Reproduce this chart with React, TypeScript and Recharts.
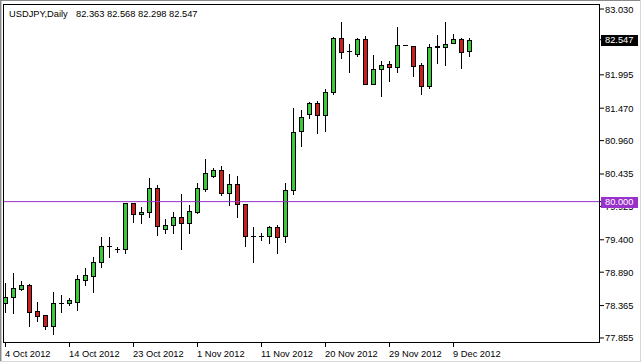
import React from 'react';
import { ComposedChart, Bar, XAxis, YAxis, ReferenceLine } from 'recharts';

const symbolTitle = 'USDJPY,Daily';

const opens = [
  78.410, 78.495, 78.631, 78.689, 78.280, 78.217, 78.048, 78.408, 78.410, 78.426,
  78.767, 78.835, 79.046, 79.300, 79.253, 79.250, 79.974, 79.801, 79.832, 80.210,
  79.574, 79.628, 79.754, 79.659, 79.842, 80.199, 80.408, 80.498, 80.141, 80.277,
  79.963, 79.462, 79.459, 79.460, 79.596, 79.460, 80.183, 81.111, 81.374, 81.547,
  81.358, 81.720, 82.569, 82.373, 82.322, 82.558, 81.855, 82.082, 82.160, 82.123,
  82.457, 82.448, 82.149, 81.824, 82.428, 82.437, 82.500, 82.558, 82.363,
];
const highs = [
  78.720, 78.873, 78.752, 78.697, 78.426, 78.220, 78.583, 78.531, 78.479, 78.846,
  78.951, 79.134, 79.448, 79.448, 79.291, 79.983, 79.978, 79.911, 80.367, 80.262,
  79.722, 79.837, 80.120, 79.947, 80.288, 80.671, 80.524, 80.561, 80.435, 80.408,
  79.967, 79.596, 79.502, 79.617, 79.633, 80.288, 81.468, 81.441, 81.572, 81.588,
  81.767, 82.594, 82.830, 82.475, 82.579, 82.610, 82.307, 82.212, 82.212, 82.742,
  82.461, 82.450, 82.186, 82.480, 82.621, 82.830, 82.637, 82.579, 82.568,
];
const lows = [
  78.269, 78.253, 78.610, 78.044, 78.122, 77.992, 77.918, 78.269, 78.374, 78.295,
  78.689, 78.583, 78.967, 79.134, 79.213, 79.197, 79.684, 79.669, 79.763, 79.475,
  79.511, 79.511, 79.260, 79.502, 79.817, 80.172, 80.392, 80.104, 79.947, 79.751,
  79.307, 79.055, 79.397, 79.345, 79.187, 79.370, 80.120, 80.880, 81.311, 81.075,
  81.116, 81.693, 82.255, 82.044, 82.296, 81.847, 81.853, 81.666, 81.902, 82.035,
  82.457, 81.981, 81.693, 81.783, 82.186, 82.149, 82.491, 82.107, 82.298,
];
const closes = [
  78.505, 78.637, 78.689, 78.269, 78.206, 78.048, 78.401, 78.412, 78.453, 78.778,
  78.846, 79.050, 79.302, 79.304, 79.255, 79.974, 79.806, 79.837, 80.210, 79.617,
  79.628, 79.754, 79.659, 79.853, 80.210, 80.446, 80.498, 80.141, 80.277, 79.963,
  79.464, 79.466, 79.461, 79.596, 79.439, 80.183, 81.100, 81.327, 81.547, 81.358,
  81.725, 82.569, 82.349, 82.377, 82.558, 81.850, 82.082, 82.149, 82.123, 82.459,
  82.461, 82.134, 81.824, 82.428, 82.445, 82.475, 82.558, 82.349, 82.547,
];

const dateTickIndex = [0, 8, 16, 24, 32, 40, 48, 56];
const dateTickLabels = [
  '4 Oct 2012', '14 Oct 2012', '23 Oct 2012', '1 Nov 2012',
  '11 Nov 2012', '20 Nov 2012', '29 Nov 2012', '9 Dec 2012',
];
const priceTicks = [77.855, 78.365, 78.890, 79.400, 79.925, 80.435, 80.960, 81.470, 81.995, 83.030];
const levelLine = 80.0;

const priceDomain = [77.792, 83.109];
const indexDomain = [-0.1875, 74.3125];

const data = opens.map((o, i) => ({
  i,
  open: o,
  high: highs[i],
  low: lows[i],
  close: closes[i],
}));

const last = data[data.length - 1];

const FONT = '"Liberation Sans", Arial, sans-serif';
const FS = 9.3;
const UP = '#3cc83c';
const DOWN = '#c81e1e';
const LEVEL = '#9932CC';

const Candle = (props: any) => {
  const { x, y, width, height, payload } = props;
  if (!payload || x == null || y == null) return null;
  const { open, close, high, low } = payload;
  const range = high - low;
  const ppu = range > 0 ? height / range : 0;
  const yOf = (v: number) => y + (high - v) * ppu;
  const cx = x + width / 2;
  const wx = Math.round(cx - 0.5) + 0.5;
  const yHigh = yOf(high);
  const yLow = yOf(low);
  const top = Math.round(yOf(Math.max(open, close))) + 0.5;
  const bot = Math.round(yOf(Math.min(open, close))) + 0.5;
  const up = close >= open;
  return (
    <g>
      <line x1={wx} x2={wx} y1={Math.round(yHigh)} y2={Math.round(yLow) + 1} stroke="#000" strokeWidth={1} />
      {bot - top < 1 ? (
        <line x1={wx - 2.5} x2={wx + 2.5} y1={top} y2={top} stroke="#000" strokeWidth={1} />
      ) : (
        <rect x={wx - 2} y={top} width={4} height={bot - top} fill={up ? UP : DOWN} stroke="#000" strokeWidth={1} />
      )}
    </g>
  );
};

const PriceTick = (props: any) => {
  const { x, y, payload } = props;
  const v = payload.value;
  const bx = x - 4;
  if (v === levelLine || v === last.close) {
    const fill = v === levelLine ? LEVEL : '#000';
    return (
      <g>
        <rect x={bx} y={Math.round(y) - 5} width={37} height={11} fill={fill} />
        <text x={x} y={y + 3.5} fontFamily={FONT} fontSize={FS} fill="#fff" textAnchor="start">
          {v.toFixed(3)}
        </text>
      </g>
    );
  }
  return (
    <text x={x} y={y + 3.5} fontFamily={FONT} fontSize={FS} fill="#000" textAnchor="start">
      {v.toFixed(3)}
    </text>
  );
};

const DateTick = (props: any) => {
  const { x, y, payload } = props;
  const k = dateTickIndex.indexOf(payload.value);
  return (
    <text x={x - 0.5} y={y + 8} fontFamily={FONT} fontSize={FS} fill="#000" textAnchor="start">
      {k >= 0 ? dateTickLabels[k] : ''}
    </text>
  );
};

export default function App() {
  const ohlcText = [last.open, last.high, last.low, last.close].map((v) => v.toFixed(3)).join(' ');
  return (
    <div style={{ position: 'absolute', left: 0, top: 0, width: 641, height: 362, background: '#fff', overflow: 'hidden' }}>
      <ComposedChart
        width={641}
        height={362}
        data={data}
        margin={{ top: 4, right: 0, bottom: 0, left: 4 }}
      >
        <XAxis
          dataKey="i"
          type="number"
          domain={indexDomain}
          allowDataOverflow
          ticks={dateTickIndex}
          interval={0}
          height={20}
          axisLine={false}
          tickLine={{ stroke: '#000' }}
          tickSize={5}
          tickMargin={2}
          tick={<DateTick />}
        />
        <YAxis
          orientation="right"
          type="number"
          domain={priceDomain}
          allowDataOverflow
          ticks={[...priceTicks, levelLine, last.close]}
          interval={0}
          width={41}
          axisLine={false}
          tickLine={{ stroke: '#000' }}
          tickSize={4}
          tickMargin={1}
          tick={<PriceTick />}
        />
        <Bar
          dataKey={(d: any) => [d.low, d.high]}
          barSize={5}
          shape={<Candle />}
          isAnimationActive={false}
        />
        <ReferenceLine y={levelLine} stroke={LEVEL} strokeWidth={1} />
      </ComposedChart>
      <svg width={641} height={362} style={{ position: 'absolute', left: 0, top: 0, pointerEvents: 'none' }}>
        <rect x={3.5} y={4.5} width={596} height={338} fill="none" stroke="#000" strokeWidth={1} />
        <line x1={0.5} y1={0} x2={0.5} y2={362} stroke="#8a8a8a" />
        <line x1={1.5} y1={0} x2={1.5} y2={362} stroke="#c8c8c8" />
        <line x1={0} y1={0.5} x2={641} y2={0.5} stroke="#8a8a8a" />
        <line x1={640.5} y1={0} x2={640.5} y2={362} stroke="#d8d8d8" />
        <line x1={0} y1={361.5} x2={641} y2={361.5} stroke="#d8d8d8" />
        <text x={9} y={16.5} fontFamily={FONT} fontSize={FS} fill="#000">{symbolTitle}</text>
        <text x={76} y={16.5} fontFamily={FONT} fontSize={FS} fill="#000">{ohlcText}</text>
      </svg>
    </div>
  );
}
